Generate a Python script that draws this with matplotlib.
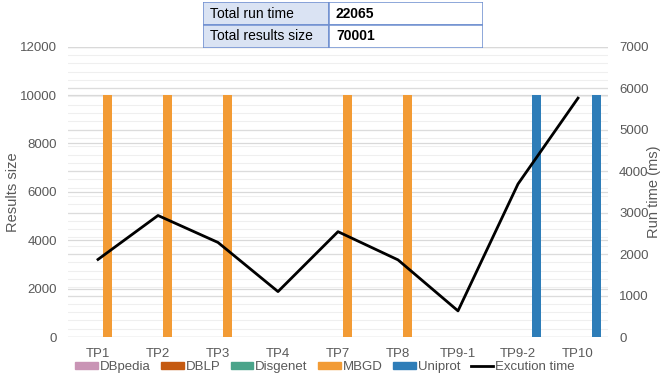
import matplotlib
matplotlib.use("Agg")
import matplotlib.pyplot as plt
from matplotlib.patches import Rectangle
from matplotlib.lines import Line2D
from matplotlib.ticker import MultipleLocator
import numpy as np

plt.rcParams['font.family'] = ['Liberation Sans', 'DejaVu Sans']

categories = ["TP1", "TP2", "TP3", "TP4", "TP7", "TP8", "TP9-1", "TP9-2", "TP10"]
sources = ["DBpedia", "DBLP", "Disgenet", "MBGD", "Uniprot"]
dbpedia = [0, 0, 0, 0, 0, 0, 0, 0, 0]
dblp = [0, 0, 0, 0, 0, 0, 0, 0, 0]
disgenet = [0, 0, 0, 0, 0, 0, 0, 0, 0]
mbgd = [10000, 10000, 10000, 0, 10000, 10000, 0, 0, 0]
uniprot = [0, 0, 0, 0, 0, 0, 0, 10000, 10000]
run_time = [1870, 2930, 2280, 1095, 2540, 1860, 630, 3690, 5760]
summary_labels = ["Total run time", "Total results size"]
summary_values = ["22065", "70001"]

colors = ["#c994b5", "#c55a11", "#4aa48a", "#f29b35", "#2e7db8"]
text_gray = "#595959"

LEFT_MAX, RIGHT_MAX = 12000, 7000

fig = plt.figure(figsize=(6.65, 3.85), dpi=100)
ax = fig.add_axes([68 / 665, 48 / 385, 540 / 665, 290.3 / 385])
ax2 = ax.twinx()

ax.set_ylim(0, LEFT_MAX)
ax.set_xlim(-0.5, len(categories) - 0.5)
ax.yaxis.set_major_locator(MultipleLocator(2000))
ax2.set_ylim(0, RIGHT_MAX)
ax2.yaxis.set_major_locator(MultipleLocator(1000))

# gridlines drawn beneath the bars; secondary-axis levels rescaled to primary units
scale = LEFT_MAX / RIGHT_MAX
for v in np.arange(0, RIGHT_MAX + 1, 200):
    ax.axhline(v * scale, color="#efefef", lw=0.8, zorder=0)
for v in np.arange(0, RIGHT_MAX + 1, 1000):
    ax.axhline(v * scale, color="#dcdcdc", lw=0.9, zorder=0.5)
for v in np.arange(0, LEFT_MAX + 1, 2000):
    ax.axhline(v, color="#d9d9d9", lw=0.9, zorder=1)

x = np.arange(len(categories))
width = 0.15
series = [dbpedia, dblp, disgenet, mbgd, uniprot]
for i, (vals, col) in enumerate(zip(series, colors)):
    ax.bar(x + (i - 2) * width, vals, width=width, color=col, zorder=3)

ax2.plot(x, run_time, color="black", lw=2.0, zorder=5)
ax2.patch.set_visible(False)

ax.set_xticks(x)
ax.set_xticklabels(categories)
for a in (ax, ax2):
    for s in a.spines.values():
        s.set_visible(False)
    a.tick_params(length=0, labelsize=9.5, colors=text_gray, pad=8)
ax.tick_params(axis="x", pad=8)

ax.set_ylabel("Results size", fontsize=10.5, color=text_gray)
ax.yaxis.set_label_coords(-0.088, 0.5)
ax2.set_ylabel("Run time (ms)", fontsize=10.5, color=text_gray, rotation=90)
ax2.yaxis.set_label_coords(1.073, 0.5)

handles = [Rectangle((0, 0), 1, 1, color=c) for c in colors]
handles.append(Line2D([0], [0], color="black", lw=2))
labels = sources + ["Excution time"]
fig.legend(handles, labels, loc="center", bbox_to_anchor=(325 / 665, 1 - 367 / 385),
           ncol=6, frameon=False, fontsize=9.5, handlelength=1.7, handleheight=0.45,
           handletextpad=0.15, columnspacing=0.8, labelcolor=text_gray,
           borderpad=0.1)

# summary table above the plot
tax = fig.add_axes([203 / 665, 1 - 48 / 385, 280 / 665, 46 / 385])
tax.set_xlim(0, 280)
tax.set_ylim(0, 46)
tax.axis("off")
border = "#6f8fd0"
for r in range(2):
    y0 = 46 - (r + 1) * 23
    tax.add_patch(Rectangle((0, y0), 126, 23, facecolor="#dae3f3", edgecolor=border, lw=1.1))
    tax.add_patch(Rectangle((126, y0), 154, 23, facecolor="white", edgecolor=border, lw=1.1))
    tax.text(7, y0 + 11.5, summary_labels[r], va="center", ha="left", fontsize=10, color="black")
    tax.text(133, y0 + 11.5, summary_values[r], va="center", ha="left", fontsize=10,
             color="black", fontweight="bold")

fig.savefig("out.png", dpi=100)
